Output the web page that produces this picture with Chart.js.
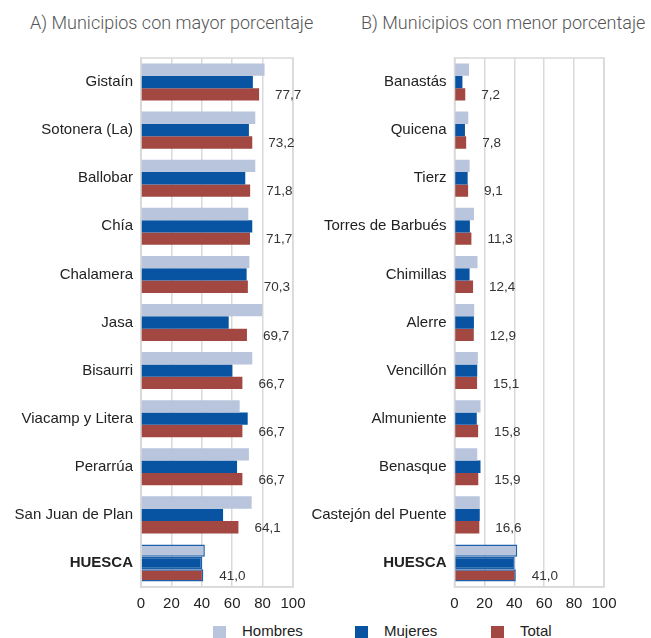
<!DOCTYPE html>
<html>
<head>
<meta charset="utf-8">
<script src="https://cdn.jsdelivr.net/npm/chart.js@4.4.1/dist/chart.umd.min.js"></script>
<style>
  html, body { margin: 0; padding: 0; background: #fff; }
  body { width: 651px; height: 638px; position: relative; overflow: hidden; font-family: "Liberation Sans", Arial, sans-serif; }
  .title { position: absolute; top: 12px; font-family: Roboto, "Liberation Sans", sans-serif; font-weight: 300; font-size: 18px; color: #555; white-space: nowrap; }
  #wrapA { position: absolute; left: 0; top: 0; width: 320px; height: 620px; }
  #wrapB { position: absolute; left: 306px; top: 0; width: 345px; height: 620px; }
  .leg { position: absolute; top: 622px; font-size: 15px; color: #222; white-space: nowrap; }
  .box { position: absolute; top: 626px; width: 13px; height: 13px; }
</style>
</head>
<body>
<div class="title" style="left:30px">A) Municipios con mayor porcentaje</div>
<div class="title" style="left:361px">B) Municipios con menor porcentaje</div>
<div id="wrapA"><canvas id="chartA"></canvas></div>
<div id="wrapB"><canvas id="chartB"></canvas></div>
<div id="legend"></div>
<script>
// ---- Data ----
const seriesNames = ["Hombres", "Mujeres", "Total"];
const catsA = ["Gistaín", "Sotonera (La)", "Ballobar", "Chía", "Chalamera", "Jasa", "Bisaurri", "Viacamp y Litera", "Perarrúa", "San Juan de Plan", "HUESCA"];
const hombresA = [81.3, 75.2, 75.2, 70.6, 71.3, 79.8, 73.2, 64.9, 71.0, 72.8, 42.0];
const mujeresA = [73.6, 71.0, 68.6, 73.2, 69.5, 57.7, 60.1, 70.2, 63.2, 54.0, 40.2];
const totalA   = [77.7, 73.2, 71.8, 71.7, 70.3, 69.7, 66.7, 66.7, 66.7, 64.1, 41.0];

const catsB = ["Banastás", "Quicena", "Tierz", "Torres de Barbués", "Chimillas", "Alerre", "Vencillón", "Almuniente", "Benasque", "Castejón del Puente", "HUESCA"];
const hombresB = [9.7, 9.2, 10.1, 13.0, 15.4, 13.2, 15.6, 17.4, 15.2, 16.9, 42.0];
const mujeresB = [5.3, 7.0, 8.8, 10.3, 10.1, 13.0, 15.2, 14.9, 17.4, 16.9, 40.2];
const totalB   = [7.2, 7.8, 9.1, 11.3, 12.4, 12.9, 15.1, 15.8, 15.9, 16.6, 41.0];

const xTicks = [0, 20, 40, 60, 80, 100];

// ---- Styles ----
const colors = ["#b8c5dd", "#0954a2", "#a24741"];
const hlBorder = "#1e5fa9";
const gridColor = "#d9d9d9";
const fam = "'Liberation Sans', Arial, sans-serif";

const frameAndLabels = {
  id: "frameAndLabels",
  beforeDatasetsDraw(chart) {
    const a = chart.chartArea, ctx = chart.ctx;
    ctx.save();
    ctx.strokeStyle = gridColor;
    ctx.lineWidth = 1.5;
    ctx.strokeRect(a.left, a.top, a.right - a.left, a.bottom - a.top);
    ctx.restore();
  },
  afterDatasetsDraw(chart) {
    const ctx = chart.ctx;
    const meta = chart.getDatasetMeta(2);
    const data = chart.data.datasets[2].data;
    ctx.save();
    ctx.font = "13.5px " + fam;
    ctx.fillStyle = "#333";
    ctx.textAlign = "left";
    ctx.textBaseline = "middle";
    meta.data.forEach((el, i) => {
      ctx.fillText(data[i].toFixed(1).replace(".", ","), el.x + 16, el.y + 1);
    });
    ctx.restore();
  }
};

function makeChart(id, cats, h, m, t, yWidth, padRight) {
  const last = cats.length - 1;
  const bw = (ctx) => ctx.dataIndex === last ? 1.5 : 0;
  return new Chart(document.getElementById(id), {
    type: "bar",
    data: {
      labels: cats,
      datasets: [h, m, t].map((d, k) => ({
        label: seriesNames[k],
        data: d,
        backgroundColor: colors[k],
        borderColor: hlBorder,
        borderWidth: bw,
        categoryPercentage: 0.77,
        barPercentage: 1.0
      }))
    },
    options: {
      indexAxis: "y",
      responsive: true,
      maintainAspectRatio: false,
      animation: false,
      layout: { padding: { top: 58, right: padRight, left: 0, bottom: 0 } },
      plugins: { legend: { display: false }, tooltip: { enabled: false } },
      scales: {
        x: {
          min: 0, max: 100,
          afterBuildTicks(scale) { scale.ticks = xTicks.map(v => ({ value: v })); },
          afterFit(scale) { scale.height = 33; },
          grid: { color: gridColor, lineWidth: 1.5, drawTicks: false },
          border: { color: gridColor, width: 1.5 },
          ticks: { padding: 8, color: "#222", font: { size: 15, family: fam }, maxRotation: 0 }
        },
        y: {
          afterFit(scale) { scale.width = yWidth; },
          grid: { display: false, drawTicks: false },
          border: { color: gridColor, width: 1.5 },
          ticks: {
            padding: 8,
            color: "#222",
            font: (ctx) => ({ size: 15, family: fam, weight: ctx.index === last ? "bold" : "normal" })
          }
        }
      }
    },
    plugins: [frameAndLabels]
  });
}

makeChart("chartA", catsA, hombresA, mujeresA, totalA, 141, 27);
makeChart("chartB", catsB, hombresB, mujeresB, totalB, 148.5, 47);

// ---- Legend ----
const legPos = [[213, 242], [355, 384], [491, 520]];
const legend = document.getElementById("legend");
seriesNames.forEach((name, k) => {
  const b = document.createElement("div");
  b.className = "box"; b.style.left = legPos[k][0] + "px"; b.style.background = colors[k];
  const t = document.createElement("div");
  t.className = "leg"; t.style.left = legPos[k][1] + "px"; t.textContent = name;
  legend.appendChild(b); legend.appendChild(t);
});
</script>
</body>
</html>
